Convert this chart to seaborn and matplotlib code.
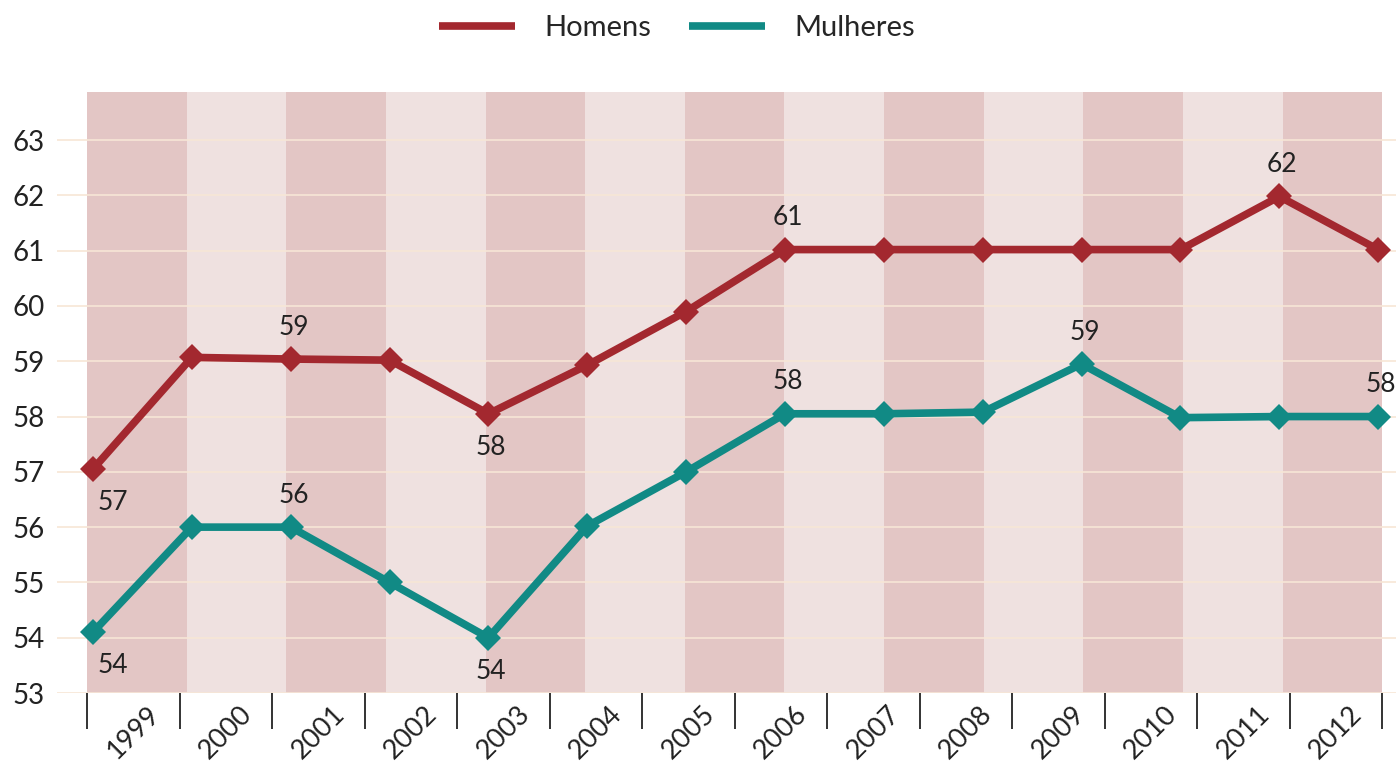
import numpy as np
import pandas as pd
import seaborn as sns
import matplotlib.pyplot as plt
from matplotlib.lines import Line2D

# Dados
anos = ['1999', '2000', '2001', '2002', '2003', '2004', '2005',
        '2006', '2007', '2008', '2009', '2010', '2011', '2012']
homens = [57.05, 59.07, 59.04, 59.02, 58.05, 58.93, 59.9,
          61.02, 61.02, 61.02, 61.02, 61.02, 61.98, 61.02]
mulheres = [54.1, 56.0, 56.0, 55.0, 54.0, 56.02, 57.0,
            58.05, 58.05, 58.08, 58.95, 57.98, 58.0, 58.0]

# pontos com rótulo: indice -> acima (+1) ou abaixo (-1)
rotulos_homens = {0: -1, 2: 1, 4: -1, 7: 1, 12: 1}
rotulos_mulheres = {0: -1, 2: 1, 4: -1, 7: 1, 10: 1, 13: 1}

cores = {'Homens': '#a3282f', 'Mulheres': '#118a85'}

sns.set_style('white')
plt.rcParams['font.family'] = ['Lato', 'DejaVu Sans']

n = len(anos)
pos = np.arange(n)
df = pd.DataFrame({
    'pos': np.concatenate([pos, pos]),
    'valor': homens + mulheres,
    'sexo': ['Homens'] * n + ['Mulheres'] * n,
})

fig = plt.figure(figsize=(13.96, 7.67), dpi=100)
ax = fig.add_axes([57 / 1396, 1 - 693 / 767, 1 - 57 / 1396, (693 - 92) / 767])

# faixas alternadas de fundo
bordas = np.linspace(-0.06, n - 1 + 0.04, n)
for i in range(n - 1):
    cor = '#e3c6c5' if i % 2 == 0 else '#efe1e0'
    ax.axvspan(bordas[i], bordas[i + 1], color=cor, lw=0, zorder=0)

sns.lineplot(data=df, x='pos', y='valor', hue='sexo', palette=cores,
             marker='D', markersize=13, markeredgewidth=0, linewidth=5.5,
             legend=False, ax=ax, zorder=3)

# rótulos de valores
for serie, rotulos in [(homens, rotulos_homens), (mulheres, rotulos_mulheres)]:
    for i, lado in rotulos.items():
        dx = 14 if i == 0 else 2
        dy = 23 if lado > 0 else -24
        ax.annotate(f'{serie[i]:.0f}', (pos[i], serie[i]), xytext=(dx, dy),
                    textcoords='offset points', ha='center', va='center',
                    fontsize=19, color='#222222', zorder=4)

ax.set_xlim(-0.364, 13.18)
ax.set_ylim(53, 63.87)
ax.set_yticks(range(53, 64))
ax.grid(axis='y', color='#f7e6d6', linewidth=1.2)
ax.set_axisbelow(True)
for s in ax.spines.values():
    s.set_visible(False)

# separadores e rótulos do eixo x
sep = np.linspace(-0.06, n - 1 + 0.04, n + 1)
ax.set_xticks((sep[:-1] + sep[1:]) / 2)
ax.set_xticklabels(anos, rotation=45, ha='center', va='top')
ax.set_xticks(sep, minor=True)
ax.tick_params(axis='x', which='major', bottom=True, length=0, pad=6,
               labelsize=19.5, labelcolor='#222222')
ax.tick_params(axis='x', which='minor', bottom=True, length=26, width=1.4,
               color='#333333', direction='out')
ax.tick_params(axis='y', length=0, pad=9, labelsize=20, labelcolor='#222222')
ax.set_xlabel('')
ax.set_ylabel('')

handles = [Line2D([], [], color=cores[k], linewidth=5.5, solid_capstyle='butt')
           for k in cores]
fig.legend(handles, list(cores), loc='upper center', ncol=2,
           bbox_to_anchor=(0.485, 1.015), frameon=False, fontsize=21,
           handlelength=2.6, handletextpad=1.0, columnspacing=1.3)

fig.savefig('out.png', dpi=100)
